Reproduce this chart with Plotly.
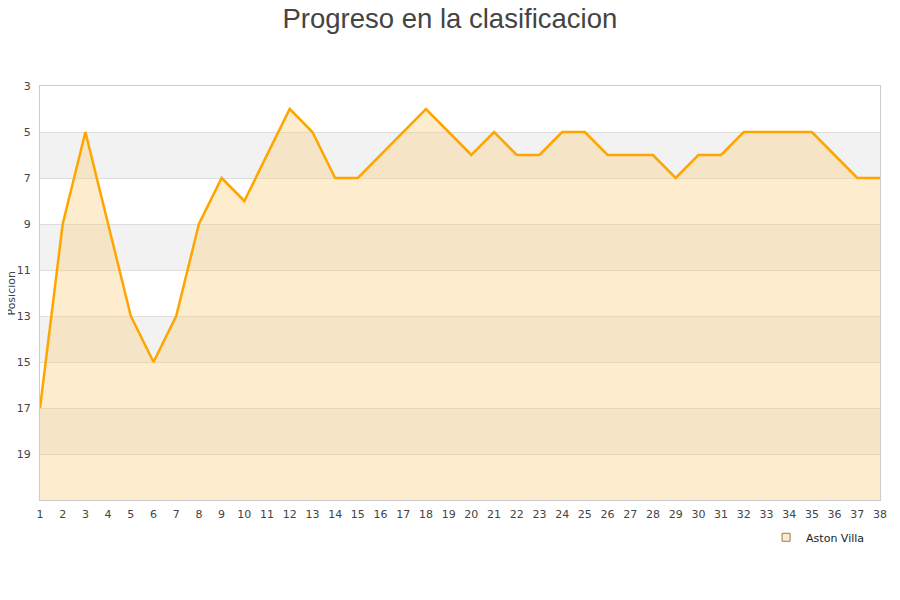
import plotly.graph_objects as go

jornadas = list(range(1, 39))
posicion = [17, 9, 5, 9, 13, 15, 13, 9, 7, 8, 6, 4, 5, 7, 7, 6, 5, 4, 5, 6,
            5, 6, 6, 5, 5, 6, 6, 6, 7, 6, 6, 5, 5, 5, 5, 6, 7, 7]
equipo = "Aston Villa"
y_ticks = [3, 5, 7, 9, 11, 13, 15, 17, 19]
y_bottom = 21
bandas = [(5, 7), (9, 11), (13, 15), (17, 19)]

fig = go.Figure()

# base invisible para rellenar hasta el fondo del eje invertido
fig.add_trace(go.Scatter(
    x=jornadas, y=[y_bottom] * len(jornadas), mode="lines",
    line=dict(width=0), showlegend=False, hoverinfo="skip",
))
fig.add_trace(go.Scatter(
    x=jornadas, y=posicion, mode="lines", name=equipo,
    line=dict(color="#FFA500", width=2.5),
    fill="tonexty", fillcolor="rgba(250,207,130,0.4)",
    showlegend=False,
))
# entrada de leyenda con cuadrado
fig.add_trace(go.Scatter(
    x=[None], y=[None], mode="markers", name=equipo,
    marker=dict(symbol="square", size=8, color="#fdebcc",
                line=dict(color="#9a7a4a", width=1)),
))

for y0, y1 in bandas:
    fig.add_shape(type="rect", xref="paper", x0=0, x1=1, y0=y0, y1=y1,
                  fillcolor="#f2f2f2", line=dict(width=0), layer="below")

# titulo del eje y como anotacion para poder situarlo a mano
fig.add_annotation(text="Posicion", xref="paper", yref="paper", x=-0.035, y=0.5,
                   xanchor="center", yanchor="middle", textangle=-90,
                   showarrow=False, font=dict(size=11, color="#444444"))

fig.update_layout(
    width=900, height=600,
    title=dict(text="Progreso en la clasificacion", x=0.491, xanchor="center",
               yref="container", y=0.998, yanchor="top", pad=dict(t=0),
               font=dict(family="Liberation Sans", size=27.5, color="#444444")),
    font=dict(family="DejaVu Sans", size=11, color="#444444"),
    margin=dict(l=32, r=28, t=78, b=108),
    paper_bgcolor="white", plot_bgcolor="white",
    legend=dict(orientation="h", x=0.987, xanchor="right", y=-0.055, yanchor="top",
                font=dict(size=11, color="#222222")),
)
fig.update_xaxes(range=[1, 38], tickmode="array", tickvals=jornadas,
                 showgrid=False, showline=True, linecolor="#cccccc", mirror=True,
                 ticks="", zeroline=False, automargin=False, ticklabelstandoff=4)
fig.update_yaxes(range=[y_bottom, 3], tickmode="array", tickvals=y_ticks,
                 showgrid=True, gridcolor="#dddddd", showline=True,
                 linecolor="#cccccc", mirror=True, zeroline=False, ticks="",
                 automargin=False, ticklabelstandoff=6)

fig.write_html("out.html")
